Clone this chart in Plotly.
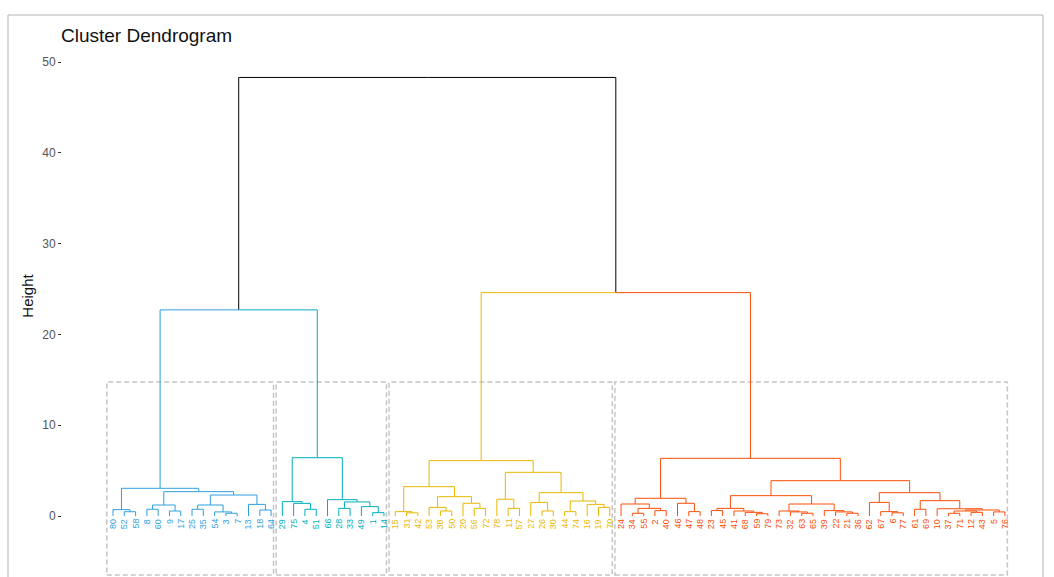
import plotly.graph_objects as go

# ---- chart text -------------------------------------------------------------
title_text = "Cluster Dendrogram"
y_title = "Height"
y_ticks = [0, 10, 20, 30, 40, 50]

# ---- clusters (k = 4) --------------------------------------------------------
cluster_colors = ["#2E9FDF", "#00AFBB", "#E7B800", "#FC4E07"]

# merges written as [left, right, height]; integers are observation labels
cluster1 = [
    [80, [52, 58, 0.47], 0.70],
    [
        [[8, 60, 0.74], [9, 17, 0.55], 1.21],
        [[[25, 35, 0.74], [54, [3, 7, 0.30], 0.45], 1.21], [13, [18, 64, 0.66], 1.28], 2.31],
        2.68,
    ],
    3.05,
]

cluster2 = [
    [29, [75, [4, 51, 0.74], 1.39], 1.58],
    [66, [[28, 33, 0.84], [49, [1, 14, 0.37], 1.03], 1.55], 1.80],
    6.42,
]

cluster3 = [
    [
        [15, [31, 42, 0.35], 0.48],
        [[53, [38, 50, 0.55], 0.95], [20, [56, 72, 0.84], 1.40], 2.13],
        3.23,
    ],
    [
        [78, [11, 57, 0.84], 1.84],
        [[27, [26, 30, 0.55], 1.50], [[44, 74, 0.48], [16, [19, 70, 0.95], 1.28], 1.65], 2.57],
        4.81,
    ],
    6.10,
]

cluster4 = [
    [
        [24, [[34, 55, 0.30], [2, 40, 0.59], 0.84], 1.32],
        [46, [47, 48, 0.48], 1.40],
        1.95,
    ],
    [
        [
            [[23, 45, 0.60], [41, [68, [59, 79, 0.25], 0.40], 0.55], 0.84],
            [[73, [32, [63, 65, 0.30], 0.45], 0.55], [39, [22, [21, 36, 0.30], 0.45], 0.59], 1.32],
            2.24,
        ],
        [
            [62, [67, [6, 77, 0.35], 0.48], 1.50],
            [[61, 69, 0.74], [10, [[[37, 71, 0.30], [12, 43, 0.40], 0.55], [5, 76, 0.45], 0.66], 0.80], 1.69],
            2.57,
        ],
        3.89,
    ],
    6.35,
]

clusters = [cluster1, cluster2, cluster3, cluster4]

# heights of the merges above the four clusters
left_pair_height = 22.7    # cluster1 + cluster2
right_pair_height = 24.6   # cluster3 + cluster4
root_height = 48.3

# dashed cluster boxes (in height units)
rect_top = 14.75
rect_bottom = -6.5


# ---- tree helpers ------------------------------------------------------------
def leaves(node):
    if isinstance(node, int):
        return [node]
    return leaves(node[0]) + leaves(node[1])


leaf_order = []
for c in clusters:
    leaf_order += leaves(c)
position = {lab: i for i, lab in enumerate(leaf_order)}

tree = [[cluster1, cluster2, left_pair_height],
        [cluster3, cluster4, right_pair_height],
        root_height]

# colour of every node: cluster colour inside a cluster, black above
node_color = {}


def paint(node, color):
    node_color[id(node)] = color
    if not isinstance(node, int):
        paint(node[0], color)
        paint(node[1], color)


def paint_top(node):
    node_color[id(node)] = "#000000"
    for child in node[:2]:
        if any(child is c for c in clusters):
            paint(child, cluster_colors[[i for i, c in enumerate(clusters) if c is child][0]])
        elif isinstance(child, list):
            paint_top(child)


paint_top(tree)


def coords(node):
    if isinstance(node, int):
        return float(position[node]), 0.0
    xl, _ = coords(node[0])
    xr, _ = coords(node[1])
    return (xl + xr) / 2.0, float(node[2])


segments = {}


def add_segment(color, xs, ys):
    seg = segments.setdefault(color, ([], []))
    seg[0].extend(xs + [None])
    seg[1].extend(ys + [None])


def draw(node):
    if isinstance(node, int):
        return
    px, ph = coords(node)
    for child in node[:2]:
        cx, ch = coords(child)
        col = node_color[id(child)] if not isinstance(child, int) else node_color[id(node)]
        add_segment(col, [px, cx, cx], [ph, ph, ch])
        draw(child)


draw(tree)

# ---- figure ------------------------------------------------------------------
fig = go.Figure()
for color, (xs, ys) in segments.items():
    fig.add_trace(go.Scatter(x=xs, y=ys, mode="lines",
                             line=dict(color=color, width=1),
                             hoverinfo="skip", showlegend=False))

# leaf labels, rotated and coloured by cluster
annotations = []
start = 0
for k, c in enumerate(clusters):
    labs = leaves(c)
    for lab in labs:
        annotations.append(dict(
            x=position[lab], y=0, xref="x", yref="y", text=str(lab),
            showarrow=False, textangle=-90, xanchor="center", yanchor="top",
            yshift=-1, font=dict(size=9, color=cluster_colors[k],
                                 family="Liberation Sans, Arial, sans-serif")))
    end = start + len(labs) - 1
    fig.add_shape(type="rect", xref="x", yref="y",
                  x0=start - 0.55, x1=end + 0.22, y0=rect_bottom, y1=rect_top,
                  line=dict(color="#c4c4c4", width=1.5, dash="5px,3px"),
                  fillcolor="rgba(0,0,0,0)", layer="below")
    start = end + 1

W, H = 1054, 577
ml, mr, mt, mb = 62, 14, 15, 0
pw = W - ml - mr

# outer frame
fx0 = (8 - ml) / pw
fx1 = (1043 - ml) / pw
fig.add_shape(type="path", xref="paper", yref="paper",
              path=f"M {fx0},-0.05 L {fx0},1 L {fx1},1 L {fx1},-0.05",
              line=dict(color="#b4b4b4", width=1))

x_lo = (ml - 113) / 11.29
x_hi = (W - mr - 113) / 11.29
y_lo = (516 - H) / 9.08
y_hi = (516 - mt) / 9.08

fig.update_layout(
    width=W, height=H,
    margin=dict(l=ml, r=mr, t=mt, b=mb),
    paper_bgcolor="white", plot_bgcolor="white",
    font=dict(family="Liberation Sans, Arial, sans-serif"),
    title=dict(text=title_text, xref="container", yref="container",
               x=61 / W, xanchor="left", y=1 - 35 / H, yanchor="middle",
               font=dict(size=19, color="#111111")),
    annotations=annotations,
    xaxis=dict(range=[x_lo, x_hi], showgrid=False, zeroline=False,
               showticklabels=False, ticks="", showline=False),
    yaxis=dict(range=[y_lo, y_hi], tickvals=y_ticks, ticks="outside",
               ticklen=3, tickcolor="#333333", tickwidth=1,
               tickfont=dict(size=12, color="#555555"),
               showgrid=False, zeroline=False, showline=False,
               title=dict(text=y_title, font=dict(size=15, color="#111111"),
                          standoff=4)),
)

fig.write_html("out.html")
